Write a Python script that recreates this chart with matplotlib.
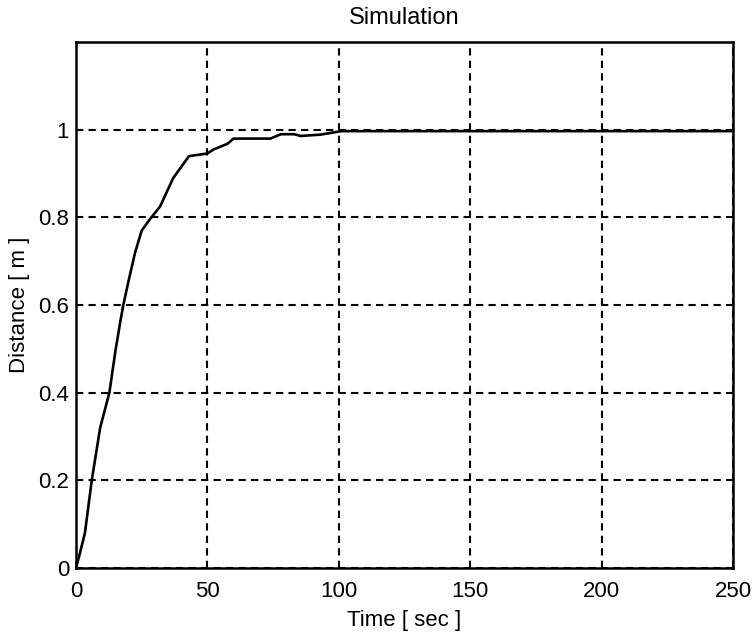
import matplotlib
matplotlib.use("Agg")
import matplotlib.pyplot as plt
import numpy as np

# response
time = [0, 1.5, 3.4, 6, 9.2, 12.7, 15, 16.8, 18, 20, 22.5, 25, 28, 32, 37, 43,
        50, 52.3, 57.6, 60, 74, 78, 83, 85.5, 93, 101, 150, 200, 250]
dist = [0, 0.034, 0.08, 0.2, 0.32, 0.4, 0.495, 0.56, 0.6, 0.655, 0.72, 0.77,
        0.795, 0.825, 0.89, 0.94, 0.946, 0.955, 0.968, 0.98, 0.98, 0.99, 0.99,
        0.986, 0.989, 0.997, 0.997, 0.997, 0.997]

xticks = [0, 50, 100, 150, 200, 250]
yticks = [0, 0.2, 0.4, 0.6, 0.8, 1]
ytick_labels = ["0", "0.2", "0.4", "0.6", "0.8", "1"]

plt.rcParams['font.family'] = ['Liberation Sans', 'DejaVu Sans']
fs = 16

fig = plt.figure(figsize=(7.56, 6.39), dpi=100)
ax = fig.add_axes([0.1005, 0.111, 0.869, 0.823])

ax.plot(time, dist, color="black", lw=1.9)

ax.set_xlim(0, 250)
ax.set_ylim(0, 1.2)
ax.set_xticks(xticks)
ax.set_xticklabels([str(t) for t in xticks], fontsize=fs)
ax.set_yticks(yticks)
ax.set_yticklabels(ytick_labels, fontsize=fs)
ax.tick_params(direction="in", length=5, width=1.3)
ax.tick_params(axis="x", pad=9)
ax.tick_params(axis="y", pad=5)

ax.grid(True, color="black", linestyle=(0, (3.5, 2.5)), linewidth=1.5)
for s in ax.spines.values():
    s.set_linewidth(1.8)

ax.set_title("Simulation", fontsize=17, pad=13)
ax.set_xlabel("Time [ sec ]", fontsize=fs, labelpad=6)
ax.set_ylabel("Distance [ m ]", fontsize=fs, labelpad=6)

plt.savefig("out.png", dpi=100)
